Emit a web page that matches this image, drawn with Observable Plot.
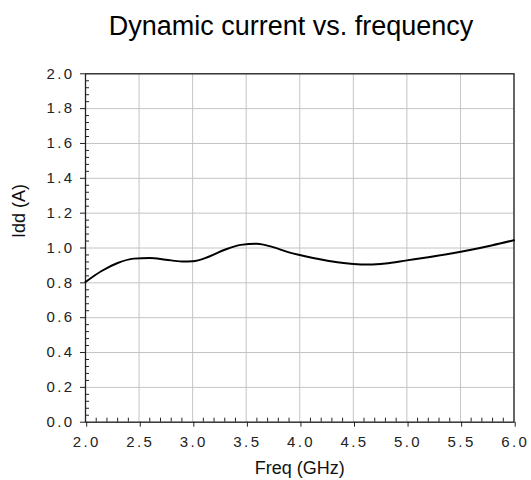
<!DOCTYPE html>
<html>
<head>
<meta charset="utf-8">
<script src="https://cdn.jsdelivr.net/npm/d3@7"></script>
<script src="https://cdn.jsdelivr.net/npm/@observablehq/plot@0.6"></script>
<style>
  html, body { margin: 0; padding: 0; background: #ffffff; }
  #wrap { width: 531px; height: 480px; position: relative; overflow: hidden; }
  #title { position: relative; height: 58px; }
  #title span { position: absolute; left: 291px; top: 13px; transform: translateX(-50%);
    white-space: nowrap; font: 27px "Liberation Sans", Arial, sans-serif; line-height: 27px; color: #000; }
  svg { display: block; }
  g[aria-label="x-axis tick label"] text,
  g[aria-label="y-axis tick label"] text { letter-spacing: 2.4px; }
</style>
</head>
<body>
<div id="wrap">
  <div id="title"><span>Dynamic current vs. frequency</span></div>
  <div id="chart"></div>
</div>
<script>
// ---- data ----
const freq = [2.0, 2.15, 2.3, 2.45, 2.6, 2.75, 2.9, 3.0, 3.15, 3.3, 3.45, 3.6, 3.75, 3.9, 4.05, 4.2, 4.35, 4.5, 4.65, 4.8, 5.0, 5.2, 5.4, 5.6, 5.8, 6.0];
const idd  = [0.805, 0.868, 0.914, 0.939, 0.943, 0.933, 0.923, 0.924, 0.950, 0.990, 1.018, 1.025, 1.005, 0.975, 0.953, 0.934, 0.918, 0.908, 0.905, 0.911, 0.929, 0.947, 0.967, 0.990, 1.016, 1.045];
const xTicks = [2.0, 2.5, 3.0, 3.5, 4.0, 4.5, 5.0, 5.5, 6.0];
const yTicks = [0.0, 0.2, 0.4, 0.6, 0.8, 1.0, 1.2, 1.4, 1.6, 1.8, 2.0];
const xMinor = d3.range(20, 61, 1).map(d => d / 10).filter(d => !xTicks.includes(d));
const yMinor = d3.range(0, 51, 1).map(d => +(d * 0.04).toFixed(2)).filter(d => !yTicks.some(t => Math.abs(t - d) < 1e-9));
const xLabel = "Freq (GHz)";
const yLabel = "Idd (A)";

const rows = freq.map((f, i) => ({f, v: idd[i]}));

const W = 531, H = 422;
const mt = 15.3, mb = 58.3, ml = 85, mr = 17.5;
const innerH = H - mt - mb, innerW = W - ml - mr;
const tickFont = "'Liberation Sans', Arial, sans-serif";

const chart = Plot.plot({
  width: W,
  height: H,
  marginTop: mt,
  marginBottom: mb,
  marginLeft: ml,
  marginRight: mr,
  style: {background: "#ffffff", fontFamily: "'Liberation Sans', Arial, sans-serif"},
  x: {domain: [2, 6]},
  y: {domain: [0, 2]},
  marks: [
    Plot.gridX(xTicks, {stroke: "#c4c4c4", strokeOpacity: 1, strokeWidth: 1}),
    Plot.gridY(yTicks, {stroke: "#c4c4c4", strokeOpacity: 1, strokeWidth: 1}),
    // minor ticks (inside)
    Plot.tickX(xMinor, {x: d => d, stroke: "#222", insetTop: innerH - 4}),
    Plot.tickY(yMinor, {y: d => d, stroke: "#222", insetRight: innerW - 4}),
    Plot.axisX(xTicks, {
      anchor: "bottom", tickSize: 5, tickPadding: 9, stroke: "#222", dx: 1.2,
      tickFormat: d => d.toFixed(1), fontSize: 15, fontFamily: tickFont, fill: "#222",
      label: null
    }),
    Plot.axisY(yTicks, {
      anchor: "left", tickSize: 5, tickPadding: 6, stroke: "#222",
      tickFormat: d => d.toFixed(1), fontSize: 15, fontFamily: tickFont, fill: "#222",
      label: null
    }),
    Plot.frame({stroke: "#222", strokeWidth: 1.3}),
    Plot.line(rows, {x: "f", y: "v", curve: "monotone-x", stroke: "#000", strokeWidth: 2}),
    Plot.text([xLabel], {text: d => d, frameAnchor: "bottom", lineAnchor: "middle", dy: 46.3, fontSize: 18, fill: "#111"}),
    Plot.text([yLabel], {text: d => d, frameAnchor: "left", lineAnchor: "middle", rotate: -90, dx: -66, dy: -10, fontSize: 18, fill: "#111"})
  ]
});
document.getElementById("chart").appendChild(chart);
</script>
</body>
</html>
